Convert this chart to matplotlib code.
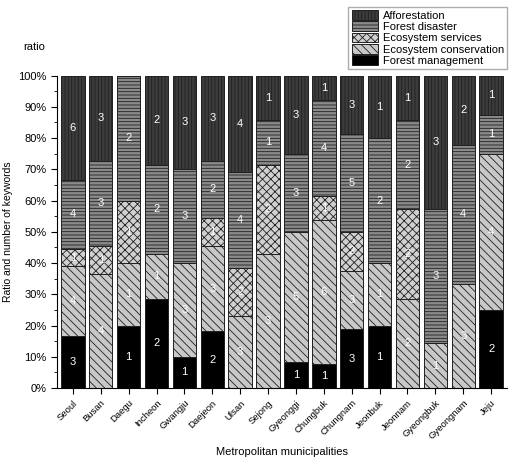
import matplotlib
matplotlib.use("Agg")
import matplotlib.pyplot as plt
import numpy as np
from matplotlib.ticker import MultipleLocator, PercentFormatter

plt.rcParams['font.family'] = ['Liberation Sans', 'DejaVu Sans']
plt.rcParams['hatch.linewidth'] = 0.6

regions = ["Seoul", "Busan", "Daegu", "Incheon", "Gwangju", "Daejeon", "Ulsan", "Sejong",
           "Gyeonggi", "Chungbuk", "Chungnam", "Jeonbuk", "Jeonnam", "Gyeongbuk", "Gyeongnam", "Jeju"]
forest_management = [3, 0, 1, 2, 1, 2, 0, 0, 1, 1, 3, 1, 0, 0, 0, 2]
ecosystem_conservation = [4, 4, 1, 1, 3, 3, 3, 3, 5, 6, 3, 1, 2, 1, 3, 4]
ecosystem_services = [1, 1, 1, 0, 0, 1, 2, 2, 0, 1, 2, 0, 2, 0, 0, 0]
forest_disaster = [4, 3, 2, 2, 3, 2, 4, 1, 3, 4, 5, 2, 2, 3, 4, 1]
afforestation = [6, 3, 0, 2, 3, 3, 4, 1, 3, 1, 3, 1, 1, 3, 2, 1]

series = [
    ("Forest management", forest_management, "#000000", None),
    ("Ecosystem conservation", ecosystem_conservation, "#c8c8c8", "\\\\\\\\"),
    ("Ecosystem services", ecosystem_services, "#d0d0d0", "xxxx"),
    ("Forest disaster", forest_disaster, "#8a8a8a", "-----"),
    ("Afforestation", afforestation, "#3c3c3c", "|||||"),
]

counts = np.array([s[1] for s in series], dtype=float)
totals = counts.sum(axis=0)
ratios = counts / totals * 100

fig = plt.figure(figsize=(5.16, 4.61), dpi=100)
ax = fig.add_axes([57/516, 1-388/461, 450/516, (388-75.5)/461])

x = np.arange(len(regions))
bottom = np.zeros(len(regions))
handles = []
for (name, vals, color, hatch), r in zip(series, ratios):
    bars = ax.bar(x, r, width=0.84, bottom=bottom, color=color, edgecolor="#202020",
                  linewidth=0.7, hatch=hatch, label=name)
    handles.append(bars)
    for xi, v, b, rr in zip(x, vals, bottom, r):
        if v > 0:
            ax.text(xi, b + rr/2, str(v), ha="center", va="center", color="white", fontsize=8)
    bottom += r

ax.set_xlim(-0.57, len(regions) - 0.43)
ax.set_ylim(0, 100)
ax.yaxis.set_major_locator(MultipleLocator(10))
ax.yaxis.set_minor_locator(MultipleLocator(5))
ax.yaxis.set_major_formatter(PercentFormatter(decimals=0))
ax.set_xticks(x)
ax.set_xticklabels(regions, rotation=45, ha="right", rotation_mode="anchor", fontsize=6.8)
ax.tick_params(axis="y", labelsize=8, direction="out", length=4)
ax.tick_params(axis="y", which="minor", length=2.5)
ax.tick_params(axis="x", direction="out", length=4)
for s in ["top", "right"]:
    ax.spines[s].set_visible(False)

ax.set_ylabel("Ratio and number of keywords", fontsize=7.5)
ax.set_xlabel("Metropolitan municipalities", fontsize=8, va="center")
ax.xaxis.set_label_coords(0.5, -(452 - 388) / 312.5)
fig.text(23/516, 1-47/461, "ratio", fontsize=8, ha="left", va="center")

leg = fig.legend(handles[::-1], [s[0] for s in series][::-1], loc="upper right",
                 bbox_to_anchor=(513/516, 1-1/461), fontsize=8, frameon=True,
                 fancybox=False, edgecolor="#999999", borderpad=0.3, labelspacing=0.05,
                 handlelength=2.4, handleheight=1.0, handletextpad=0.4)

fig.savefig("out.png", dpi=100)
